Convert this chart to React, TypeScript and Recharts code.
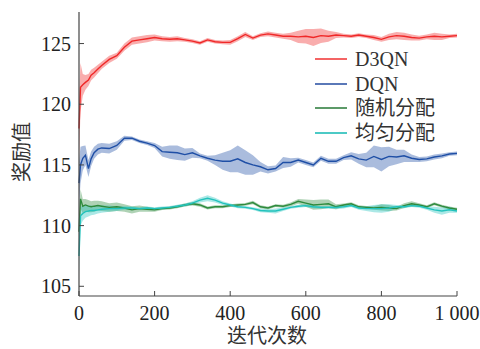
import React from "react";
import { ComposedChart, Area, Line, XAxis, YAxis } from "recharts";

if (typeof document !== "undefined") document.body.style.margin = "0";

const FONT = '"Liberation Serif", "Times New Roman", "Noto Sans CJK SC", serif';

const iterations = [
  0, 4, 10, 17, 25, 32, 40, 50, 60, 80, 100, 120, 140, 160, 180, 200, 220, 240, 260, 280,
  300, 320, 340, 360, 380, 400, 420, 440, 460, 480, 500, 520, 540, 560, 580, 600, 620, 640,
  660, 680, 700, 720, 740, 760, 780, 800, 820, 840, 860, 880, 900, 920, 940, 960, 980, 1000,
];

const d3qn = [
  118.0, 121.4, 121.6, 121.8, 122.0, 122.4, 122.6, 122.9, 123.2, 123.7, 124.0, 124.7, 125.2,
  125.3, 125.4, 125.5, 125.4, 125.35, 125.4, 125.3, 125.2, 125.05, 125.3, 125.15, 125.1,
  125.1, 125.4, 125.75, 125.45, 125.7, 125.8, 125.7, 125.6, 125.6, 125.55, 125.6, 125.5,
  125.65, 125.6, 125.7, 125.65, 125.6, 125.7, 125.6, 125.5, 125.35, 125.55, 125.65, 125.6,
  125.5, 125.45, 125.55, 125.6, 125.55, 125.6, 125.65,
];
const d3qnSpread = [
  2.5, 2.0, 0.9, 0.6, 0.5, 0.45, 0.4, 0.35, 0.3, 0.3, 0.25, 0.3, 0.3, 0.3, 0.3, 0.25, 0.2,
  0.2, 0.2, 0.15, 0.15, 0.15, 0.15, 0.15, 0.15, 0.2, 0.2, 0.2, 0.15, 0.15, 0.2, 0.2, 0.2,
  0.3, 0.5, 0.6, 0.7, 0.6, 0.45, 0.25, 0.15, 0.15, 0.15, 0.15, 0.2, 0.2, 0.25, 0.3, 0.3,
  0.25, 0.2, 0.2, 0.3, 0.25, 0.15, 0.15,
];

const dqn = [
  113.5, 115.0, 115.55, 115.8, 114.7, 115.5, 116.0, 116.3, 116.4, 116.35, 116.6, 117.2,
  117.2, 116.95, 116.8, 116.6, 116.1, 116.05, 116.0, 115.85, 116.0, 115.75, 115.55, 115.4,
  115.3, 115.3, 115.5, 115.2, 115.0, 114.85, 114.6, 114.7, 115.2, 115.2, 115.4, 115.2,
  115.0, 115.55, 115.3, 115.3, 115.6, 115.75, 115.5, 115.4, 115.7, 115.45, 115.7, 115.65,
  115.75, 115.55, 115.45, 115.5, 115.65, 115.75, 115.9, 115.95,
];
const dqnSpread = [
  1.8, 1.5, 1.0, 0.8, 0.7, 0.6, 0.5, 0.45, 0.4, 0.4, 0.35, 0.2, 0.15, 0.15, 0.15, 0.2, 0.4,
  0.55, 0.6, 0.5, 0.4, 0.2, 0.2, 0.4, 0.7, 0.9, 1.1, 1.0, 0.8, 0.4, 0.3, 0.25, 0.45, 0.35,
  0.2, 0.2, 0.2, 0.2, 0.2, 0.2, 0.2, 0.3, 0.4, 0.6, 0.9, 1.0, 0.8, 0.6, 0.5, 0.3, 0.2, 0.2,
  0.2, 0.2, 0.15, 0.15,
];

const randomAlloc = [
  109.5, 112.2, 111.6, 111.7, 111.6, 111.55, 111.6, 111.65, 111.6, 111.5, 111.55, 111.45,
  111.3, 111.4, 111.35, 111.3, 111.4, 111.45, 111.55, 111.7, 111.8, 111.7, 111.45, 111.55,
  111.55, 111.65, 111.7, 111.75, 111.9, 111.55, 111.45, 111.65, 111.6, 111.75, 112.0, 111.85,
  111.7, 111.75, 111.8, 111.55, 111.7, 111.8, 111.55, 111.5, 111.45, 111.5, 111.45, 111.4,
  111.65, 111.8, 111.7, 111.55, 111.8, 111.6, 111.45, 111.35,
];
const randomSpread = [
  1.0, 0.8, 0.6, 0.5, 0.5, 0.45, 0.45, 0.4, 0.4, 0.35, 0.35, 0.3, 0.3, 0.25, 0.2, 0.15, 0.12,
  0.12, 0.12, 0.12, 0.15, 0.15, 0.12, 0.12, 0.12, 0.12, 0.12, 0.12, 0.15, 0.12, 0.12, 0.12,
  0.12, 0.15, 0.2, 0.3, 0.4, 0.4, 0.35, 0.2, 0.12, 0.12, 0.12, 0.12, 0.15, 0.25, 0.25, 0.15,
  0.2, 0.2, 0.15, 0.12, 0.12, 0.12, 0.12, 0.12,
];

const uniformAlloc = [
  107.5, 110.8, 111.0, 111.15, 111.2, 111.25, 111.25, 111.3, 111.35, 111.4, 111.4, 111.45,
  111.45, 111.4, 111.45, 111.4, 111.45, 111.5, 111.6, 111.7, 111.85, 112.1, 112.25, 112.1,
  111.85, 111.7, 111.55, 111.5, 111.4, 111.25, 111.2, 111.2, 111.35, 111.5, 111.6, 111.65,
  111.55, 111.5, 111.5, 111.5, 111.55, 111.65, 111.45, 111.4, 111.4, 111.4, 111.45, 111.55,
  111.55, 111.65, 111.6, 111.45, 111.3, 111.2, 111.3, 111.2,
];
const uniformSpread = [
  1.5, 0.8, 0.6, 0.5, 0.45, 0.4, 0.35, 0.3, 0.3, 0.25, 0.2, 0.15, 0.12, 0.12, 0.12, 0.12,
  0.12, 0.12, 0.12, 0.12, 0.15, 0.2, 0.25, 0.2, 0.15, 0.12, 0.12, 0.12, 0.12, 0.15, 0.15,
  0.2, 0.15, 0.12, 0.12, 0.12, 0.12, 0.12, 0.12, 0.15, 0.15, 0.12, 0.15, 0.2, 0.3, 0.35,
  0.3, 0.15, 0.12, 0.12, 0.12, 0.15, 0.25, 0.3, 0.25, 0.15,
];

const xTicks = [0, 200, 400, 600, 800, 1000];
const yTicks = [105, 110, 115, 120, 125];

const series = [
  { key: "d3qn", name: "D3QN", color: "#f02828", legend: "#f46464", values: d3qn, spread: d3qnSpread },
  { key: "dqn", name: "DQN", color: "#1f4fa6", legend: "#5a78b8", values: dqn, spread: dqnSpread },
  { key: "rnd", name: "随机分配", color: "#2e8a3c", legend: "#5c9a68", values: randomAlloc, spread: randomSpread },
  { key: "uni", name: "均匀分配", color: "#22c2bc", legend: "#4ccac6", values: uniformAlloc, spread: uniformSpread },
];

const data = iterations.map((it, i) => {
  const row: Record<string, number | number[]> = { it };
  series.forEach((s) => {
    row[s.key] = s.values[i];
    row[s.key + "Band"] = [s.values[i] - s.spread[i], s.values[i] + s.spread[i]];
  });
  return row;
});

const AXIS = "#444";

const XTick = (props: any) => {
  const { x, y, payload } = props;
  const v = payload.value;
  const label = v === 1000 ? "1 000" : String(v);
  return (
    <g>
      <line x1={x} y1={y} x2={x} y2={y - 5} stroke={AXIS} strokeWidth={1} />
      <text x={x} y={y + 17} textAnchor="middle" dominantBaseline="central" fontSize={20} fill="#222" fontFamily={FONT}>
        {label}
      </text>
    </g>
  );
};

const YTick = (props: any) => {
  const { x, y, payload } = props;
  return (
    <g>
      <line x1={x} y1={y} x2={x + 5} y2={y} stroke={AXIS} strokeWidth={1} />
      <text x={x - 8} y={y} textAnchor="end" dominantBaseline="central" fontSize={20} fill="#222" fontFamily={FONT}>
        {payload.value}
      </text>
    </g>
  );
};

export default function App() {
  return (
    <div style={{ position: "relative", width: 480, height: 349, background: "#fff", fontFamily: FONT }}>
      <ComposedChart width={480} height={349} data={data} margin={{ top: 12, right: 23, bottom: 0, left: 0 }}>
        <XAxis
          type="number"
          dataKey="it"
          domain={[0, 1000]}
          ticks={xTicks}
          height={53}
          tickSize={0}
          tickMargin={0}
          tickLine={false}
          axisLine={{ stroke: AXIS, strokeWidth: 1.2 }}
          tick={<XTick />}
          interval={0}
        />
        <YAxis
          type="number"
          domain={[104.2, 127.6]}
          ticks={yTicks}
          width={79}
          tickSize={0}
          tickMargin={0}
          tickLine={false}
          axisLine={{ stroke: AXIS, strokeWidth: 1.2 }}
          tick={<YTick />}
          interval={0}
          allowDataOverflow
        />
        {series.map((s) => (
          <Area
            key={s.key + "Band"}
            dataKey={s.key + "Band"}
            type="linear"
            stroke="none"
            fill={s.color}
            fillOpacity={0.38}
            isAnimationActive={false}
            activeDot={false}
          />
        ))}
        {series.map((s) => (
          <Line
            key={s.key}
            dataKey={s.key}
            type="linear"
            stroke={s.color}
            strokeWidth={1.4}
            dot={false}
            activeDot={false}
            isAnimationActive={false}
          />
        ))}
      </ComposedChart>

      <div style={{ position: "absolute", left: 0, top: 0, pointerEvents: "none" }}>
        {series.map((s, i) => (
          <div
            key={s.key}
            style={{
              position: "absolute",
              left: 315,
              top: 47 + i * 24.7,
              height: 24,
              display: "flex",
              alignItems: "center",
              whiteSpace: "nowrap",
            }}
          >
            <span style={{ display: "inline-block", width: 32, height: 2, background: s.legend }} />
            <span style={{ marginLeft: 8, fontSize: 20, color: "#333", lineHeight: "24px" }}>{s.name}</span>
          </div>
        ))}
      </div>

      <div
        style={{
          position: "absolute",
          left: 267,
          top: 336,
          transform: "translate(-50%, -50%)",
          fontSize: 20,
          lineHeight: "22px",
          color: "#333",
          whiteSpace: "nowrap",
        }}
      >
        迭代次数
      </div>
      <div
        style={{
          position: "absolute",
          left: 22,
          top: 152,
          transform: "translate(-50%, -50%) rotate(-90deg)",
          fontSize: 20,
          lineHeight: "22px",
          color: "#333",
          whiteSpace: "nowrap",
        }}
      >
        奖励值
      </div>
    </div>
  );
}
